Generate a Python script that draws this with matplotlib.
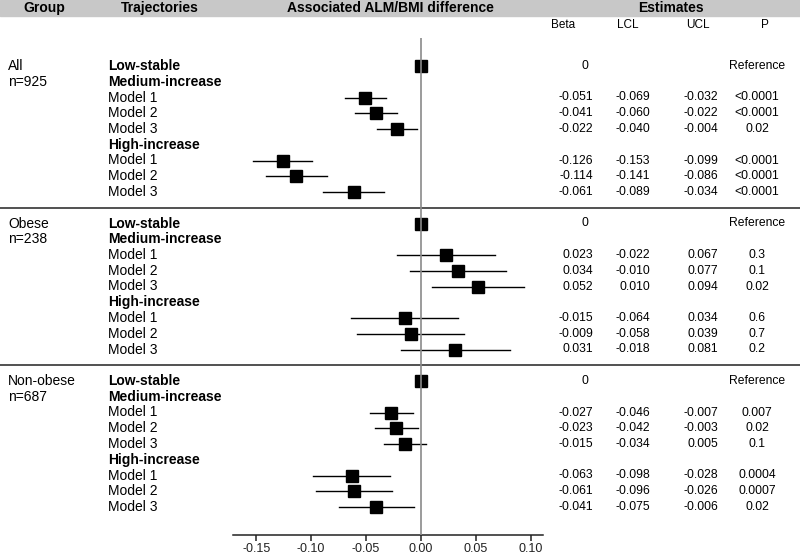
import numpy as np
import matplotlib
matplotlib.use("Agg")
import matplotlib.pyplot as plt
from matplotlib.patches import Rectangle
from matplotlib.transforms import blended_transform_factory

plt.rcParams['font.family'] = ['Liberation Sans', 'DejaVu Sans']

# Datos del forest plot
group_names = ["All", "Obese", "Non-obese"]
group_n = ["n=925", "n=238", "n=687"]
row_labels = ["Low-stable", "Medium-increase", "Model 1", "Model 2", "Model 3",
              "High-increase", "Model 1", "Model 2", "Model 3"]
bold_rows = ["Low-stable", "Medium-increase", "High-increase"]

beta_all = [0, -0.051, -0.041, -0.022, -0.126, -0.114, -0.061]
lcl_all = [None, -0.069, -0.060, -0.040, -0.153, -0.141, -0.089]
ucl_all = [None, -0.032, -0.022, -0.004, -0.099, -0.086, -0.034]
p_all = ["Reference", "<0.0001", "<0.0001", "0.02", "<0.0001", "<0.0001", "<0.0001"]

beta_obese = [0, 0.023, 0.034, 0.052, -0.015, -0.009, 0.031]
lcl_obese = [None, -0.022, -0.010, 0.010, -0.064, -0.058, -0.018]
ucl_obese = [None, 0.067, 0.077, 0.094, 0.034, 0.039, 0.081]
p_obese = ["Reference", "0.3", "0.1", "0.02", "0.6", "0.7", "0.2"]

beta_nonobese = [0, -0.027, -0.023, -0.015, -0.063, -0.061, -0.041]
lcl_nonobese = [None, -0.046, -0.042, -0.034, -0.098, -0.096, -0.075]
ucl_nonobese = [None, -0.007, -0.003, 0.005, -0.028, -0.026, -0.006]
p_nonobese = ["Reference", "0.007", "0.02", "0.1", "0.0004", "0.0007", "0.02"]

betas = [beta_all, beta_obese, beta_nonobese]
lcls = [lcl_all, lcl_obese, lcl_nonobese]
ucls = [ucl_all, ucl_obese, ucl_nonobese]
pvals = [p_all, p_obese, p_nonobese]

x_ticks = [-0.15, -0.10, -0.05, 0.00, 0.05, 0.10]

# filas de cada estimacion dentro del grupo
est_rows = [0, 2, 3, 4, 6, 7, 8]

W, H = 800, 556
fig = plt.figure(figsize=(W / 100, H / 100), dpi=100)

def fx(px):
    return px / W

def fy(py):
    return 1 - py / H

ax = fig.add_axes([fx(233), fy(535), fx(543) - fx(233), fy(38) - fy(535)])
ax.set_xlim(-0.1712, 0.1111)
row0_px, step_px = 66, 15.75
ax.set_ylim((535 - row0_px) / step_px, (38 - row0_px) / step_px)

for s in ['top', 'left', 'right']:
    ax.spines[s].set_visible(False)
ax.spines['bottom'].set_linewidth(1.1)
ax.spines['bottom'].set_color('#222222')
ax.set_yticks([])
ax.set_xticks(x_ticks)
ax.set_xticklabels(["%.2f" % t for t in x_ticks], fontsize=9)
ax.tick_params(axis='x', length=4, width=1.1, pad=2, colors='#222222')

ax.axvline(0, color='#8a8a8a', lw=1.2, zorder=3)

tr = blended_transform_factory(fig.transFigure, ax.transData)

for g in range(3):
    base = g * 10
    ax.text(fx(8), base, group_names[g], transform=tr, fontsize=10, va='center')
    ax.text(fx(8), base + 1, group_n[g], transform=tr, fontsize=10, va='center')
    for i, lab in enumerate(row_labels):
        w = 'bold' if lab in bold_rows else 'normal'
        ax.text(fx(108), base + i, lab, transform=tr, fontsize=10, va='center', fontweight=w)
    for k, r in enumerate(est_rows):
        y = base + r
        b, lo, hi = betas[g][k], lcls[g][k], ucls[g][k]
        if lo is not None:
            ax.plot([lo, hi], [y, y], color='black', lw=1.0, zorder=2)
        ax.plot(b, y, marker='s', ms=8, color='black', zorder=2)
        if lo is None:
            ax.text(fx(585), y, "0", transform=tr, fontsize=8.7, va='center', ha='center')
        else:
            ax.text(fx(593), y, "%.3f" % b, transform=tr, fontsize=8.7, va='center', ha='right')
            ax.text(fx(650), y, "%.3f" % lo, transform=tr, fontsize=8.7, va='center', ha='right')
            ax.text(fx(718), y, "%.3f" % hi, transform=tr, fontsize=8.7, va='center', ha='right')
        ax.text(fx(757), y, pvals[g][k], transform=tr, fontsize=8.7, va='center', ha='center')

# lineas separadoras
for ysep in [9, 19]:
    ax.plot([0, 1], [ysep, ysep], transform=tr, color='#222222', lw=1.1, clip_on=False)

# cabecera gris
fig.patches.append(Rectangle((0, fy(16)), 1, 16 / H, transform=fig.transFigure,
                             color='#c8c8c8', zorder=0))
head_y = fy(8)
fig.text(fx(44), head_y, "Group", ha='center', va='center', fontsize=10, fontweight='bold')
fig.text(fx(160), head_y, "Trajectories", ha='center', va='center', fontsize=10, fontweight='bold')
fig.text(fx(390), head_y, "Associated ALM/BMI difference", ha='center', va='center',
         fontsize=10, fontweight='bold')
fig.text(fx(671), head_y, "Estimates", ha='center', va='center', fontsize=10, fontweight='bold')

sub_y = fy(25)
for lab, px in zip(["Beta", "LCL", "UCL", "P"], [563, 628, 698, 765]):
    fig.text(fx(px), sub_y, lab, ha='center', va='center', fontsize=8.5)

fig.savefig("out.png", dpi=100)
